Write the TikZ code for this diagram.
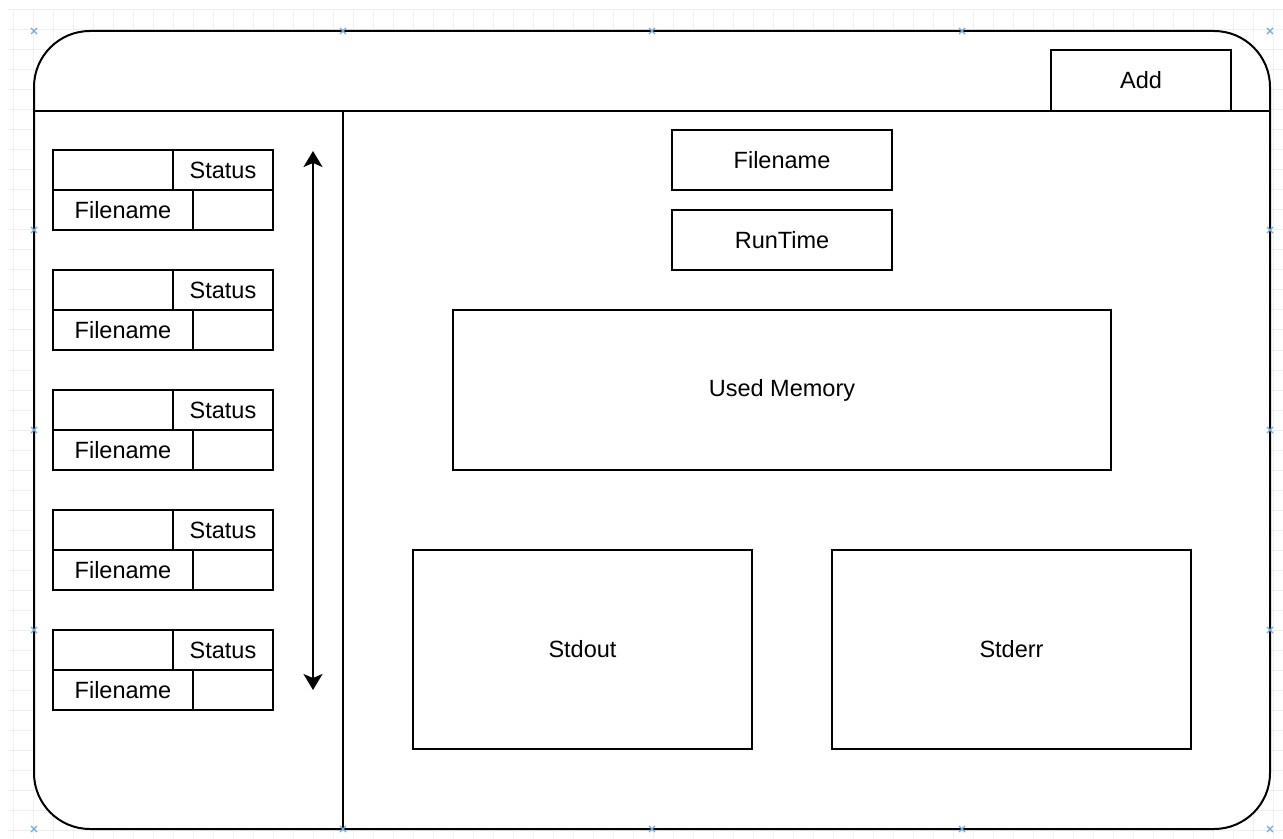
\documentclass[tikz,border=0pt]{standalone}
\usepackage{fontspec}
\setmainfont{Liberation Sans}
\usetikzlibrary{arrows.meta, positioning}

\tikzset{
  box/.style={draw, line width=1pt, rectangle, inner sep=0pt, outer sep=0pt, anchor=north west},
  cell/.style={box, minimum height=20pt},
  handle/.style={draw=cyan!70!blue!60, line width=0.6pt}
}

\begin{document}
\begin{tikzpicture}[x=0.5pt, y=-0.5pt, >={Stealth[length=8pt, width=9.5pt, inset=2pt]},
    font=\fontsize{11.75}{14}\selectfont]
  \useasboundingbox (0,0) rectangle (1283,839);

  % faint grid
  \begin{scope}
  \clip (8,10) rectangle (1283,839);
  \foreach \x in {13,33,...,1283} \draw[black!6, line width=0.5pt] (\x,10) -- (\x,839);
  \foreach \y in {10,30,...,839} \draw[black!6, line width=0.5pt] (8,\y) -- (1283,\y);
  \end{scope}

  % window
  \draw[line width=1pt, fill=white, rounded corners=28pt] (34,31) rectangle (1270,829);
  \coordinate (bar-l) at (34,111);
  \coordinate (bar-r) at (1270,111);
  \draw[line width=1pt] (bar-l) -- (bar-r);
  \coordinate (split-t) at (343,111);
  \coordinate (split-b) at (343,829);
  \draw[line width=1pt] (split-t) -- (split-b);

  \node[box, minimum width=90pt, minimum height=30.5pt] at (1051,50) (add) {Add};

  % file list
  \foreach \i/\y in {1/150, 2/270, 3/390, 4/510, 5/630} {
      \node[cell, minimum width=60pt] at (53,\y) (blank\i) {};
      \node[cell, minimum width=50pt] at (173,\y) (stat\i) {Status};
      \node[cell, minimum width=70pt] at (53,\y+40) (file\i) {Filename};
      \node[cell, minimum width=40pt] at (193,\y+40) (empty\i) {};
  };

  \coordinate (scroll-t) at (313,151);
  \coordinate (scroll-b) at (313,690);
  \draw[<->, line width=1pt] (scroll-t) -- (scroll-b);

  % details
  \node[box, minimum width=110pt, minimum height=30pt] at (672,130) (fname) {Filename};
  \node[box, minimum width=110pt, minimum height=30pt] at (672,210) (runtime) {RunTime};
  \node[box, minimum width=329pt, minimum height=80pt] at (453,310) (memory) {Used Memory};
  \node[box, minimum width=169.5pt, minimum height=99.5pt] at (413,550) (stdout) {Stdout};
  \node[box, minimum width=179.5pt, minimum height=99.5pt] at (832,550) (stderr) {Stderr};

  % selection handles
  \foreach \x/\y in {34/31, 343/31, 652/31, 962/31, 1270/31, 34/230, 1270/230, 34/430,
      1270/430, 34/630, 1270/630, 34/829, 343/829, 652/829, 962/829, 1270/829} {
      \draw[handle] (\x-3,\y-3) -- (\x+3,\y+3) (\x-3,\y+3) -- (\x+3,\y-3);
  };
\end{tikzpicture}
\end{document}
